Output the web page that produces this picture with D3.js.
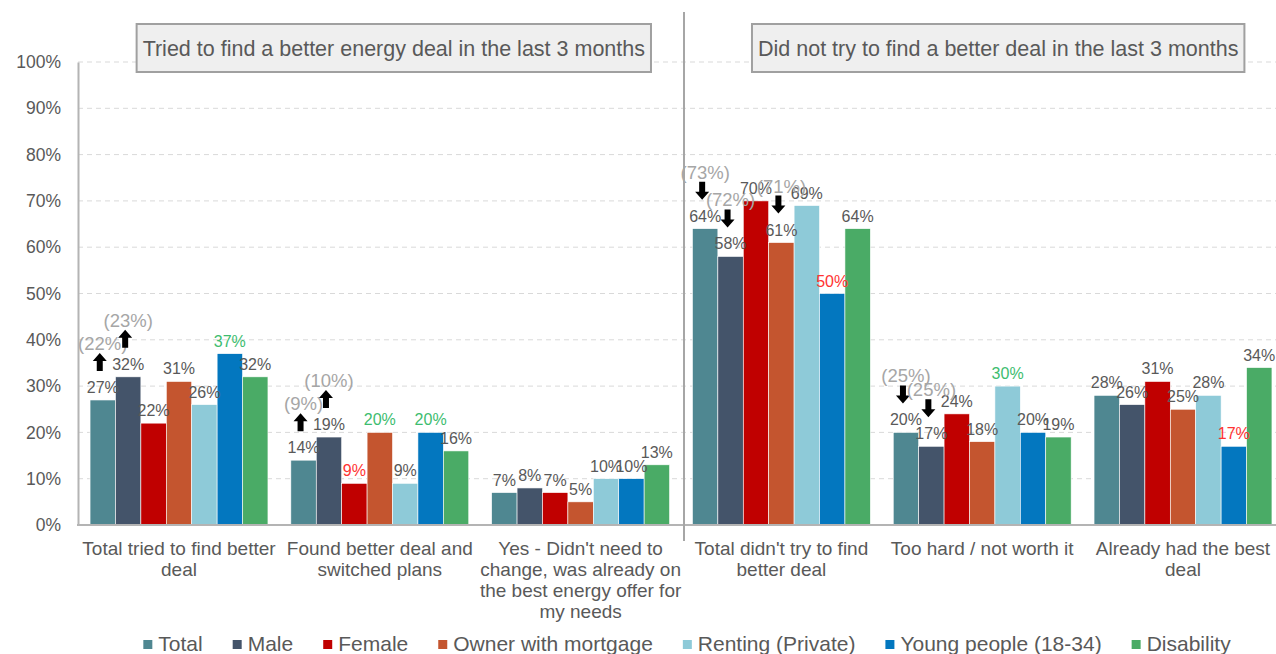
<!DOCTYPE html>
<html>
<head>
<meta charset="utf-8">
<script src="https://cdn.jsdelivr.net/npm/d3@7"></script>
<style>
  body { margin: 0; background: #fff; }
  svg { display: block; font-family: 'Liberation Sans', Arial, sans-serif; }
</style>
</head>
<body>
<div id="app"></div>
<script>
const width = 1276;
const height = 654;

const categories = [
  ['Total tried to find better', 'deal'],
  ['Found better deal and', 'switched plans'],
  ['Yes - Didn\'t need to', 'change, was already on', 'the best energy offer for', 'my needs'],
  ['Total didn\'t try to find', 'better deal'],
  ['Too hard / not worth it'],
  ['Already had the best', 'deal']
];
const seriesNames = ['Total', 'Male', 'Female', 'Owner with mortgage', 'Renting (Private)', 'Young people (18-34)', 'Disability'];
const seriesColors = ['#4f8791', '#44546a', '#c00000', '#c4552f', '#8ecad8', '#0377bf', '#4aab66'];

const total = [27, 14, 7, 64, 20, 28];
const male = [32, 19, 8, 58, 17, 26];
const female = [22, 9, 7, 70, 24, 31];
const owner = [31, 20, 5, 61, 18, 25];
const renting = [26, 9, 10, 69, 30, 28];
const young = [37, 20, 10, 50, 20, 17];
const disability = [32, 16, 13, 64, 19, 34];
const values = [total, male, female, owner, renting, young, disability];

const sections = [
  'Tried to find a better energy deal in the last 3 months',
  'Did not try to find a better deal in the last 3 months'
];
const yTicks = [0, 10, 20, 30, 40, 50, 60, 70, 80, 90, 100];

// [category, series] flagged significantly higher / lower
const higher = [[0, 5], [1, 3], [1, 5], [4, 4]];
const lower = [[1, 2], [3, 5], [5, 5]];

// previous wave: [category, series, value, direction]
const previous = [
  [0, 0, 22, 'up'], [0, 1, 23, 'up'],
  [1, 0, 9, 'up'], [1, 1, 10, 'up'],
  [3, 0, 73, 'down'], [3, 1, 72, 'down'], [3, 3, 71, 'down'],
  [4, 0, 25, 'down'], [4, 1, 25, 'down']
];

const textGrey = '#595959';
const axisGrey = '#b4b4b4';

const svg = d3.select('#app').append('svg')
  .attr('width', width)
  .attr('height', height)
  .attr('viewBox', `0 0 ${width} ${height}`);

const x0 = d3.scaleBand()
  .domain(d3.range(categories.length))
  .range([78, 1284])
  .paddingInner(0.114)
  .paddingOuter(0.06);

const x1 = d3.scaleBand()
  .domain(d3.range(seriesNames.length))
  .range([0, x0.bandwidth()]);

const y = d3.scaleLinear().domain([0, 100]).range([525, 62]);

// gridlines
svg.append('g')
  .selectAll('line')
  .data(yTicks.filter(d => d > 0))
  .join('line')
  .attr('x1', 78).attr('x2', width)
  .attr('y1', d => y(d)).attr('y2', d => y(d))
  .attr('stroke', '#d9d9d9')
  .attr('stroke-dasharray', '5,4');

// y axis
const yAxis = svg.append('g')
  .attr('transform', 'translate(78,0)')
  .call(d3.axisLeft(y).tickValues(yTicks).tickFormat(d => d + '%').tickSize(0).tickPadding(17));
yAxis.select('.domain').attr('stroke', axisGrey).attr('stroke-width', 2);
yAxis.selectAll('text')
  .attr('font-size', 17.5)
  .attr('font-family', 'Liberation Sans, Arial, sans-serif')
  .attr('fill', textGrey);

// bars
const groups = svg.append('g')
  .selectAll('g')
  .data(categories.map((_, i) => i))
  .join('g')
  .attr('transform', i => `translate(${x0(i)},0)`);

groups.selectAll('rect')
  .data(i => values.map((s, k) => ({ cat: i, s: k, v: s[i] })))
  .join('rect')
  .attr('x', d => x1(d.s))
  .attr('width', x1.bandwidth())
  .attr('y', d => y(d.v))
  .attr('height', d => y(0) - y(d.v))
  .attr('fill', d => seriesColors[d.s])
  .attr('stroke', '#fff')
  .attr('stroke-width', 0.6);

// x axis line and section divider
svg.append('line')
  .attr('x1', 77).attr('x2', width)
  .attr('y1', y(0)).attr('y2', y(0))
  .attr('stroke', axisGrey).attr('stroke-width', 2);

const dividerX = (x0(2) + x0.bandwidth() + x0(3)) / 2 + 3;
svg.append('line')
  .attr('x1', dividerX).attr('x2', dividerX)
  .attr('y1', 12).attr('y2', 541)
  .attr('stroke', '#a6a6a6').attr('stroke-width', 2);

// value labels
const isIn = (list, c, s) => list.some(([a, b]) => a === c && b === s);
const labelColor = (c, s) => isIn(higher, c, s) ? '#3dbd6f' : isIn(lower, c, s) ? '#ff3333' : textGrey;
const cx = (c, s) => x0(c) + x1(s) + x1.bandwidth() / 2;
const labelBase = (c, s) => y(values[s][c]) - 7;

groups.selectAll('text.value')
  .data(i => values.map((s, k) => ({ cat: i, s: k, v: s[i] })))
  .join('text')
  .attr('class', 'value')
  .attr('x', d => x1(d.s) + x1.bandwidth() / 2)
  .attr('y', d => labelBase(d.cat, d.s))
  .attr('text-anchor', 'middle')
  .attr('font-size', 16)
  .attr('fill', d => labelColor(d.cat, d.s))
  .text(d => d.v + '%');

// previous wave arrows and values
const arrowPath = (x, top, bottom, dir) => {
  const head = 8, hw = 7, sw = 3;
  if (dir === 'up') {
    return `M${x},${top}L${x + hw},${top + head}L${x + sw},${top + head}L${x + sw},${bottom}` +
      `L${x - sw},${bottom}L${x - sw},${top + head}L${x - hw},${top + head}Z`;
  }
  return `M${x},${bottom}L${x + hw},${bottom - head}L${x + sw},${bottom - head}L${x + sw},${top}` +
    `L${x - sw},${top}L${x - sw},${bottom - head}L${x - hw},${bottom - head}Z`;
};

const prev = svg.append('g')
  .selectAll('g')
  .data(previous)
  .join('g');

prev.append('path')
  .attr('d', ([c, s, , dir]) => {
    const lb = labelBase(c, s);
    return arrowPath(cx(c, s) - 3, lb - 40, lb - 22, dir);
  })
  .attr('fill', '#000');

prev.append('text')
  .attr('x', ([c, s]) => cx(c, s))
  .attr('y', ([c, s]) => labelBase(c, s) - 43)
  .attr('text-anchor', 'middle')
  .attr('font-size', 18.5)
  .attr('fill', '#a6a6a6')
  .text(([, , v]) => `(${v}%)`);

// category labels
svg.append('g')
  .selectAll('text')
  .data(categories)
  .join('text')
  .attr('transform', (_, i) => `translate(${x0(i) + x0.bandwidth() / 2},555)`)
  .attr('text-anchor', 'middle')
  .attr('font-size', 19)
  .attr('fill', textGrey)
  .selectAll('tspan')
  .data(d => d)
  .join('tspan')
  .attr('x', 0)
  .attr('y', (_, k) => k * 21)
  .text(d => d);

// section title boxes
const sectionCenters = [
  (x0(0) + x0(2) + x0.bandwidth()) / 2 + 14,
  (x0(3) + x0(5) + x0.bandwidth()) / 2 + 16
];
const boxes = svg.append('g')
  .selectAll('g')
  .data(sections)
  .join('g')
  .attr('transform', (_, i) => `translate(${sectionCenters[i]},0)`);

boxes.append('rect')
  .attr('fill', '#efefef')
  .attr('stroke', '#a0a0a0')
  .attr('stroke-width', 2);
boxes.append('text')
  .attr('y', 56)
  .attr('text-anchor', 'middle')
  .attr('font-size', 21.5)
  .attr('fill', textGrey)
  .text(d => d);
boxes.each(function () {
  const g = d3.select(this);
  const w = g.select('text').node().getComputedTextLength();
  g.select('rect')
    .attr('x', -w / 2 - 6).attr('width', w + 12)
    .attr('y', 24).attr('height', 48);
});

// legend
const legend = svg.append('g');
const items = legend.selectAll('g')
  .data(seriesNames)
  .join('g');
items.append('rect')
  .attr('width', 9).attr('height', 9)
  .attr('y', 640)
  .attr('fill', (_, i) => seriesColors[i]);
items.append('text')
  .attr('x', 15)
  .attr('y', 651)
  .attr('font-size', 21)
  .attr('fill', textGrey)
  .text(d => d);

let offset = 0;
const offsets = [];
items.each(function () {
  const w = d3.select(this).select('text').node().getComputedTextLength();
  offsets.push(offset);
  offset += 15 + w + 30;
});
const legendWidth = offset - 30;
const legendStart = 687 - legendWidth / 2;
items.attr('transform', (_, i) => `translate(${legendStart + offsets[i]},0)`);
</script>
</body>
</html>
